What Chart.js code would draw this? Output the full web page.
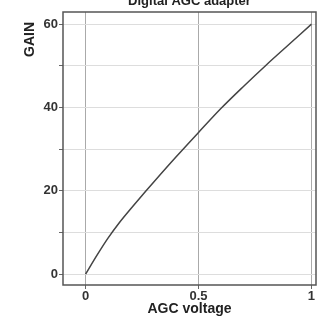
<!DOCTYPE html>
<html>
<head>
<meta charset="utf-8">
<script src="https://cdn.jsdelivr.net/npm/chart.js@4/dist/chart.umd.min.js"></script>
<style>
  body { margin: 0; background: #fff; }
  #wrap { width: 324px; height: 323px; }
</style>
</head>
<body>
<div id="wrap"><canvas id="agcChart" width="324" height="323"></canvas></div>
<script>
// AGC voltage vs gain
const agcVoltage = [0, 0.05, 0.1, 0.15, 0.2, 0.25, 0.3, 0.4, 0.5, 0.6, 0.7, 0.8, 0.9, 1.0];
const gain = [0, 4.5, 8.7, 12.4, 15.7, 18.9, 22.0, 28.1, 34, 39.8, 45.1, 50.2, 55.1, 60];
const xTicks = [0, 0.5, 1];
const yTicks = [0, 10, 20, 30, 40, 50, 60];
const yLabelled = [0, 20, 40, 60];

const FONT = '"Liberation Sans", Arial, sans-serif';

const frame = {
  id: 'frame',
  afterDraw(chart) {
    const a = chart.chartArea, ctx = chart.ctx;
    ctx.save();
    ctx.strokeStyle = '#555';
    ctx.lineWidth = 1.5;
    ctx.strokeRect(a.left, a.top, a.right - a.left, a.bottom - a.top);
    // title, cut off at the top like the original
    ctx.fillStyle = '#222';
    ctx.font = 'bold 13px ' + FONT;
    ctx.textAlign = 'center';
    ctx.textBaseline = 'alphabetic';
    ctx.fillText('Digital AGC adapter', (a.left + a.right) / 2, 5);
    // y axis name, sitting near the top of the axis
    ctx.translate(30, a.top + 10);
    ctx.rotate(-Math.PI / 2);
    ctx.textAlign = 'right';
    ctx.textBaseline = 'middle';
    ctx.font = 'bold 14px ' + FONT;
    ctx.fillText('GAIN', 0, 0);
    ctx.restore();
  }
};

const agcChart = document.getElementById('agcChart');

new Chart(agcChart, {
  type: 'line',
  data: {
    datasets: [{
      data: agcVoltage.map((v, i) => ({x: v, y: gain[i]})),
      borderColor: '#444',
      borderWidth: 1.5,
      pointRadius: 0,
      cubicInterpolationMode: 'monotone',
      fill: false
    }]
  },
  options: {
    responsive: false,
    animation: false,
    layout: { padding: { top: 12, right: 8 } },
    plugins: {
      legend: { display: false },
      tooltip: { enabled: false }
    },
    scales: {
      x: {
        type: 'linear',
        min: -0.1,
        max: 1.02,
        afterBuildTicks: s => { s.ticks = xTicks.map(v => ({value: v})); },
        afterFit: s => { s.height = 38; },
        grid: { color: '#aaa', lineWidth: 1, tickLength: 4, tickColor: '#666' },
        border: { display: false },
        ticks: {
          color: '#333',
          font: { size: 13, weight: 'bold', family: FONT },
          padding: 0,
          maxRotation: 0,
          callback: v => String(v)
        },
        title: {
          display: true,
          text: 'AGC voltage',
          color: '#222',
          font: { size: 14, weight: 'bold', family: FONT },
          padding: { top: 0, bottom: 5 }
        }
      },
      y: {
        min: -2.6,
        max: 62.9,
        afterBuildTicks: s => { s.ticks = yTicks.map(v => ({value: v})); },
        afterFit: s => { s.width = 63; },
        grid: { color: '#ddd', lineWidth: 1, tickLength: 4, tickColor: '#666' },
        border: { display: false },
        ticks: {
          color: '#333',
          font: { size: 13, weight: 'bold', family: FONT },
          padding: 1,
          callback: v => yLabelled.includes(v) ? String(v) : ''
        }
      }
    }
  },
  plugins: [frame]
});
</script>
</body>
</html>
